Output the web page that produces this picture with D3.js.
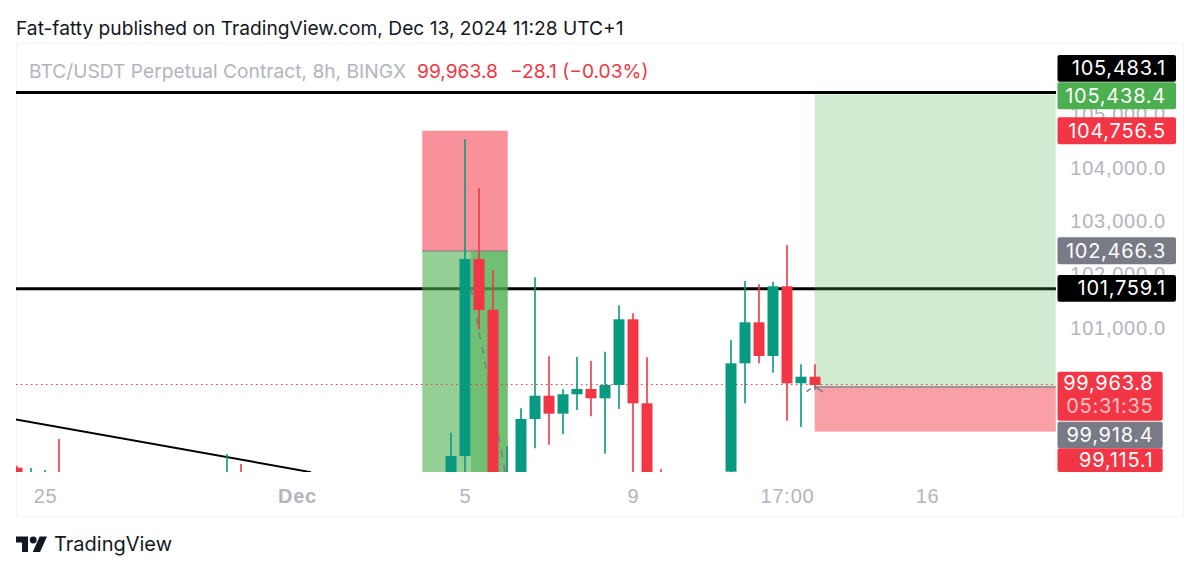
<!DOCTYPE html>
<html>
<head>
<meta charset="utf-8">
<title>BTC/USDT Perpetual Contract, 8h, BINGX</title>
<script src="https://cdn.jsdelivr.net/npm/d3@7/dist/d3.min.js"></script>
<style>
  html, body { margin: 0; padding: 0; background: #fff; }
  svg { display: block; font-family: Inter, "Liberation Sans", sans-serif; }
  .tick-label { fill: #b2b5be; font-size: 20px; letter-spacing: 0.75px; }
  .tag-label { fill: #fff; font-size: 20px; letter-spacing: 0.75px; }
</style>
</head>
<body>
<div id="chart"></div>
<script>
// 8h bars, counted from the first bar on the left edge of the chart
// bars that run off the bottom of the pane have estimated lower values
const barIndex = [0, 1, 2, 3, 15, 16, 31, 32, 33, 34, 35, 36, 37, 38, 39, 40, 41, 42, 43, 44, 45, 46, 51, 52, 53, 54, 55, 56, 57];
const opens = [98404, 98000, 98000, 98200, 98000, 98200, 98100, 98623, 102317, 101366, 97900, 98100, 99317, 99754, 99417, 99780, 99880, 99705, 99954, 101186, 99611, 98200, 98329, 100361, 101130, 100498, 101805, 99986, 100110];
const highs = [98441, 98398, 98360, 98942, 98661, 98473, 99060, 104561, 103643, 102111, 98811, 99518, 101974, 100493, 99874, 100480, 100405, 100579, 101449, 101299, 100474, 98380, 100798, 101905, 101843, 101891, 102579, 100343, 100343];
const lows = [98000, 97900, 97900, 98000, 97900, 98000, 98000, 98000, 100999, 97900, 97800, 98000, 98768, 98835, 99030, 99486, 99368, 98666, 99505, 98000, 97900, 97900, 98200, 99611, 100361, 100185, 99285, 99167, 99898];
const closes = [98100, 98200, 98200, 98000, 98200, 98000, 98623, 102317, 101361, 98000, 98200, 99317, 99754, 99417, 99780, 99880, 99705, 99954, 101186, 99611, 98000, 98000, 100361, 101130, 100498, 101805, 99986, 100110, 99955];

// Price levels
const lastPrice = 99963.8;
const resistanceTop = 105438.4;
const resistanceMid = 101759.1;
const trendBars = [-1, 21];
const trendPrices = [99351, 98320];

// Position tools, given as bar and price
const leftEntry = 102466.3;
const leftStop = 104722;
const leftBars = [28.95, 35.05];
const leftInnerBar = 32.43;
const leftFloor = 98000;
const rightEntry = 99918.4;
const rightTarget = 105400;
const rightStop = 99080;
const rightBars = [56.98, 74.2];

// Dashed path through the left position, and the arrow at the last bar
const pathBars = [32.43, 33.07, 33.57, 34.5, 34.86];
const pathPrices = [101773, 100854, 100180, 98866, 98323];
const arrowBars = [56.4, 57];
const arrowPrices = [99830, 99918.4];

// Axis
const priceTicks = [105000, 104000, 103000, 102000, 101000];
const timeBars = [2, 20, 32, 44, 55, 65];
const timeLabels = ["25", "Dec", "5", "9", "17:00", "16"];

// Price tags on the right, drawn top to bottom
const tagTexts = ["105,483.1", "105,438.4", "104,756.5", "102,466.3", "101,759.1", "99,963.8", "99,918.4", "99,115.1"];
const tagColors = ["#000000", "#4caf50", "#f23645", "#787b86", "#000000", "#f23645", "#787b86", "#f23645"];
const countdown = "05:31:35";

const titleText = "Fat-fatty published on TradingView.com, Dec 13, 2024 11:28 UTC+1";
const legendName = "BTC/USDT Perpetual Contract, 8h, BINGX";
const legendPrice = "99,963.8";
const legendChange = "\u221228.1 (\u22120.03%)";

const width = 1200;
const height = 573;
const plot = { left: 16, right: 1056, top: 44, bottom: 472 };
const upColor = "#089981";
const downColor = "#f23645";
const tagTop = [55, 82.3, 117.3, 237.3, 275, 371.7, 421.7, 448.3];
const tagBottom = [81.7, 109.3, 144.3, 264.3, 301.7, 420.7, 448.3, 472];

const x = d3.scaleLinear().domain([0, 10]).range([17, 157]);
const y = d3.scaleLinear().domain([resistanceTop, lastPrice]).range([92.5, 384.5]);

const svg = d3.select("#chart").append("svg")
  .attr("width", width)
  .attr("height", height)
  .attr("viewBox", `0 0 ${width} ${height}`);

svg.append("defs").append("clipPath").attr("id", "plot-clip")
  .append("rect")
  .attr("x", plot.left)
  .attr("y", plot.top)
  .attr("width", plot.right - plot.left)
  .attr("height", plot.bottom - plot.top);

svg.append("text")
  .attr("x", 16)
  .attr("y", 35)
  .attr("fill", "#131722")
  .attr("font-size", 19.2)
  .text(titleText);

svg.append("rect")
  .attr("x", 16.5)
  .attr("y", 43.5)
  .attr("width", 1167)
  .attr("height", 473)
  .attr("fill", "#fff")
  .attr("stroke", "#f0f3fa");

// price scale numbers sit under the tags
const yAxis = d3.axisRight(y)
  .tickValues(priceTicks)
  .tickSize(0)
  .tickPadding(0)
  .tickFormat(d3.format(",.1f"));
const yAxisG = svg.append("g")
  .attr("transform", "translate(1166,-1.5)")
  .call(yAxis);
yAxisG.select(".domain").remove();
yAxisG.selectAll("text")
  .attr("class", "tick-label")
  .attr("text-anchor", "end")
  .attr("x", 0);

const g = svg.append("g").attr("clip-path", "url(#plot-clip)");

// black levels go under the position boxes
[resistanceTop, resistanceMid].forEach(p => {
  g.append("line")
    .attr("x1", plot.left)
    .attr("x2", plot.right)
    .attr("y1", y(p))
    .attr("y2", y(p))
    .attr("stroke", "#000")
    .attr("stroke-width", 3);
});

g.append("line")
  .attr("x1", x(trendBars[0]))
  .attr("x2", x(trendBars[1]))
  .attr("y1", y(trendPrices[0]))
  .attr("y2", y(trendPrices[1]))
  .attr("stroke", "#000")
  .attr("stroke-width", 2);

function box(bar0, bar1, price0, price1, color, opacity) {
  g.append("rect")
    .attr("x", x(bar0))
    .attr("width", x(bar1) - x(bar0))
    .attr("y", y(Math.max(price0, price1)))
    .attr("height", Math.abs(y(price0) - y(price1)))
    .attr("fill", color)
    .attr("fill-opacity", opacity);
}

box(leftBars[0], leftBars[1], leftEntry, leftStop, downColor, 0.55);
box(leftBars[0], leftBars[1], leftEntry, leftFloor, "#4caf50", 0.6);
box(leftInnerBar, leftBars[1], leftEntry, leftFloor, "#4caf50", 0.5);
box(rightBars[0], rightBars[1], rightEntry, rightTarget, "#4caf50", 0.26);
box(rightBars[0], rightBars[1], rightEntry, rightStop, downColor, 0.48);

[leftEntry, rightEntry].forEach((p, i) => {
  g.append("line")
    .attr("x1", x(i ? rightBars[0] : leftBars[0]))
    .attr("x2", x(i ? rightBars[1] : leftBars[1]))
    .attr("y1", y(p))
    .attr("y2", y(p))
    .attr("stroke", "#787b86")
    .attr("stroke-width", 1.2);
});

g.append("line")
  .attr("x1", plot.left)
  .attr("x2", plot.right)
  .attr("y1", y(lastPrice))
  .attr("y2", y(lastPrice))
  .attr("stroke", downColor)
  .attr("stroke-width", 1)
  .attr("stroke-dasharray", "1.5 3.5");

const pathLine = d3.line()
  .x((d, i) => x(pathBars[i]))
  .y(d => y(d));

g.append("path")
  .attr("d", pathLine(pathPrices))
  .attr("fill", "none")
  .attr("stroke", "#787b86")
  .attr("stroke-width", 1.5)
  .attr("stroke-dasharray", "7 8");

const candles = g.selectAll("g.candle")
  .data(barIndex)
  .join("g")
  .attr("class", "candle")
  .attr("fill", (d, i) => closes[i] >= opens[i] ? upColor : downColor)
  .attr("stroke", (d, i) => closes[i] >= opens[i] ? upColor : downColor);

candles.append("line")
  .attr("x1", d => x(d))
  .attr("x2", d => x(d))
  .attr("y1", (d, i) => y(highs[i]))
  .attr("y2", (d, i) => y(lows[i]))
  .attr("stroke-width", 1.6);

candles.append("rect")
  .attr("x", d => x(d) - 5.5)
  .attr("width", 11)
  .attr("y", (d, i) => y(Math.max(opens[i], closes[i])))
  .attr("height", (d, i) => Math.abs(y(opens[i]) - y(closes[i])))
  .attr("stroke", "none");

// little arrow at the last bar
const arrowX = x(arrowBars[1]);
const arrowY = y(arrowPrices[1]);
g.append("path")
  .attr("d", `M${arrowX + 8},${arrowY + 5}L${arrowX},${arrowY}L${arrowX},${arrowY + 3}`)
  .attr("fill", "none")
  .attr("stroke", "#787b86")
  .attr("stroke-width", 1.5);
g.append("line")
  .attr("x1", x(arrowBars[0]))
  .attr("x2", x(arrowBars[0]) + 4)
  .attr("y1", y(arrowPrices[0]))
  .attr("y2", y(arrowPrices[0]) - 3)
  .attr("stroke", "#787b86")
  .attr("stroke-width", 1.5);

// legend
const legend = svg.append("text").attr("y", 78).attr("font-size", 19.2);
legend.append("tspan").attr("x", 29).attr("fill", "#b2b5be").text(legendName);
legend.append("tspan").attr("x", 417).attr("fill", downColor).text(legendPrice);
legend.append("tspan").attr("x", 510).attr("fill", downColor).text(legendChange);

// time axis
const xAxis = d3.axisBottom(x)
  .tickValues(timeBars)
  .tickSize(0)
  .tickPadding(0)
  .tickFormat((d, i) => timeLabels[i]);
const xAxisG = svg.append("g")
  .attr("transform", "translate(0,487)")
  .call(xAxis);
xAxisG.select(".domain").remove();
xAxisG.selectAll("text")
  .attr("class", "tick-label")
  .attr("font-weight", d => d === 20 ? "bold" : null)
  .attr("y", 0)
  .attr("dy", "0.8em");

// price tags
const tags = svg.append("g");
tagTexts.forEach((t, i) => {
  const narrow = i >= 5;
  const right = narrow ? 1162.7 : 1176;
  tags.append("rect")
    .attr("x", 1057.5)
    .attr("y", tagTop[i])
    .attr("width", right - 1057.5)
    .attr("height", tagBottom[i] - tagTop[i])
    .attr("rx", 2)
    .attr("fill", tagColors[i]);
  tags.append("text")
    .attr("class", "tag-label")
    .attr("text-anchor", "end")
    .attr("x", narrow ? 1153.5 : 1166)
    .attr("y", i === 5 ? 390 : (tagTop[i] + tagBottom[i]) / 2 + 7)
    .text(t);
});
tags.append("text")
  .attr("class", "tag-label")
  .attr("fill-opacity", 0.7)
  .attr("text-anchor", "end")
  .attr("x", 1153.5)
  .attr("y", 413)
  .text(countdown);

// logo + wordmark
const logo = svg.append("g").attr("transform", "translate(16,536.5) scale(0.86)");
logo.append("path")
  .attr("fill", "#131722")
  .attr("d", "M14 18H7V7H0V0h14zM28 18h-8.5l8-18H36z");
logo.append("circle").attr("cx", 20).attr("cy", 4).attr("r", 4).attr("fill", "#131722");
svg.append("text")
  .attr("x", 54)
  .attr("y", 551)
  .attr("fill", "#131722")
  .attr("font-size", 20)
  .text("TradingView");
</script>
</body>
</html>
